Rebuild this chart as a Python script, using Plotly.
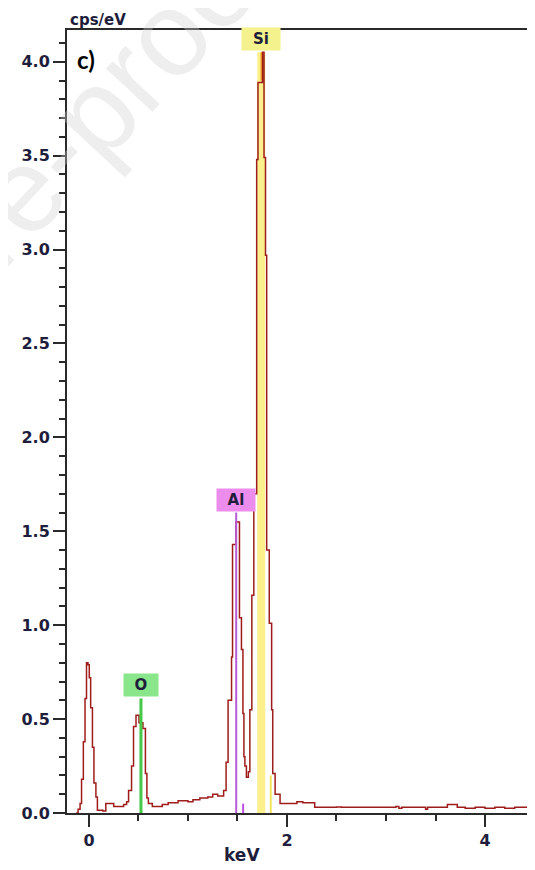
import plotly.graph_objects as go

# ---- data ----
energy_kev = [-0.13, -0.11, -0.09, -0.075, -0.057, -0.04, -0.025, -0.01, 0.003, 0.017,
              0.035, 0.05, 0.07, 0.085, 0.14, 0.17, 0.25, 0.35, 0.38, 0.40,
              0.43, 0.45, 0.475, 0.505, 0.545, 0.57, 0.585, 0.60, 0.64, 0.74,
              0.80, 0.90, 1.00, 1.05, 1.12, 1.20, 1.25, 1.30, 1.36, 1.385,
              1.405, 1.44, 1.45, 1.485, 1.52, 1.54, 1.555, 1.565, 1.575, 1.59,
              1.61, 1.625, 1.645, 1.665, 1.694, 1.707, 1.752, 1.768, 1.783, 1.795,
              1.821, 1.845, 1.856, 1.88, 1.93, 2.10, 2.16, 2.28, 2.50, 2.55,
              3.10, 3.13, 3.16, 3.40, 3.42, 3.62, 3.72, 3.80, 3.90, 4.00,
              4.10, 4.20, 4.30, 4.50]
counts_cps = [0.00, 0.02, 0.05, 0.18, 0.38, 0.61, 0.80, 0.79, 0.72, 0.56,
              0.35, 0.16, 0.085, 0.015, 0.01, 0.05, 0.035, 0.045, 0.06, 0.12,
              0.25, 0.46, 0.52, 0.48, 0.45, 0.21, 0.08, 0.05, 0.035, 0.045,
              0.055, 0.065, 0.06, 0.07, 0.08, 0.085, 0.10, 0.09, 0.12, 0.27,
              0.60, 0.83, 1.43, 1.55, 1.04, 0.87, 0.53, 0.30, 0.25, 0.19,
              0.22, 0.55, 1.16, 1.70, 3.48, 3.89, 4.05, 3.49, 2.97, 1.40,
              1.01, 0.55, 0.21, 0.10, 0.05, 0.06, 0.055, 0.03, 0.032, 0.03,
              0.035, 0.025, 0.03, 0.02, 0.03, 0.045, 0.03, 0.025, 0.03, 0.025,
              0.03, 0.025, 0.03, 0.028]

elements = ["O", "Al", "Si"]
element_kev = [0.525, 1.487, 1.740]
element_height = [0.61, 1.60, 4.05]
beta_kev = [1.557, 1.836]
beta_height = [0.05, 0.20]

x_tick_vals = [0, 2, 4]
x_tick_text = ["0", "2", "4"]
y_tick_vals = [0.0, 0.5, 1.0, 1.5, 2.0, 2.5, 3.0, 3.5, 4.0]
y_tick_text = ["0.0", "0.5", "1.0", "1.5", "2.0", "2.5", "3.0", "3.5", "4.0"]

# ---- styles ----
label_bg = {"O": "#8ae68a", "Al": "#ec8cec", "Si": "#f4f28c"}
line_col = {"O": "#45c845", "Al": "#b85ad8"}
beta_col = ["#c050e0", "#f2e45a"]
spec_col = "#9e1d1b"
text_col = "#1e1e3c"
axis_col = "#2a2a2a"

fig = go.Figure()

# Si band under the spectrum
fig.add_trace(go.Scatter(x=[element_kev[2], element_kev[2]], y=[0, element_height[2]],
                         mode="lines", line=dict(color="rgba(250,236,110,0.8)", width=8),
                         hoverinfo="skip"))
for e, h, c in zip(beta_kev, beta_height, beta_col):
    fig.add_trace(go.Scatter(x=[e, e], y=[0, h], mode="lines",
                             line=dict(color=c, width=2), hoverinfo="skip"))

# spectrum
fig.add_trace(go.Scatter(x=energy_kev, y=counts_cps, mode="lines", line_shape="hv",
                         line=dict(color=spec_col, width=1.5), hoverinfo="skip"))

# element marker lines (O, Al drawn over the spectrum)
for name, e, h in zip(elements, element_kev, element_height):
    if name == "Si":
        fig.add_trace(go.Scatter(x=[e, e], y=[3.9, h], mode="lines",
                                 line=dict(color="rgba(225,140,30,0.9)", width=1.5),
                                 hoverinfo="skip"))
        continue
    w = 3 if name == "O" else 2
    fig.add_trace(go.Scatter(x=[e, e], y=[0, h], mode="lines",
                             line=dict(color=line_col[name], width=w), hoverinfo="skip"))

annotations = []
box_w = {"O": 34, "Al": 38, "Si": 38}
for name, e, h in zip(elements, element_kev, element_height):
    annotations.append(dict(x=e, y=h, xref="x", yref="y", text="<b>%s</b>" % name,
                            showarrow=False, xanchor="center", yanchor="bottom", yshift=1,
                            bgcolor=label_bg[name], width=box_w[name], height=22,
                            borderpad=0, font=dict(family="DejaVu Sans", size=15, color=text_col)))

annotations.append(dict(x=0, y=1, xref="paper", yref="paper", text="<b>cps/eV</b>",
                        showarrow=False, xanchor="left", yanchor="bottom", xshift=1, yshift=-1,
                        font=dict(family="DejaVu Sans", size=15, color=text_col)))
annotations.append(dict(x=0.374, y=-0.054, xref="paper", yref="paper", text="<b>keV</b>",
                        showarrow=False, xanchor="center", yanchor="middle",
                        font=dict(family="DejaVu Sans", size=17, color=text_col)))
annotations.append(dict(x=0.017, y=0.962, xref="paper", yref="paper", text="<b>c)</b>",
                        showarrow=False, xanchor="left", yanchor="middle",
                        font=dict(family="Lato", size=24, color="black")))
# faint watermark
annotations.append(dict(x=-0.27, y=0.685, xref="paper", yref="paper", text="Journal Pre-proof",
                        showarrow=False, xanchor="center", yanchor="middle", textangle=-47,
                        opacity=0.35,
                        font=dict(family="Liberation Sans", size=120, color="#cfcfcf")))

tick_font = dict(family="DejaVu Sans", size=16, color=text_col, weight="bold")

# the page body adds an 8px offset, so the figure is 8px smaller and margins reduced by 8
fig.update_layout(
    width=527, height=862,
    margin=dict(l=59, r=0, t=22, b=57),
    plot_bgcolor="white", paper_bgcolor="white",
    showlegend=False,
    annotations=annotations,
    xaxis=dict(range=[-0.222, 4.505], tickvals=x_tick_vals, ticktext=x_tick_text,
               ticks="outside", ticklen=12, tickwidth=2, tickcolor=axis_col,
               showline=True, linewidth=2, linecolor=axis_col, mirror=True,
               showgrid=False, zeroline=False, tickfont=tick_font,
               minor=dict(dtick=0.5, tick0=0, ticks="outside", ticklen=6, tickwidth=2,
                          tickcolor=axis_col, showgrid=False)),
    yaxis=dict(range=[0, 4.169], tickvals=y_tick_vals, ticktext=y_tick_text,
               ticks="outside", ticklen=12, tickwidth=2, tickcolor=axis_col,
               showline=True, linewidth=2, linecolor=axis_col, mirror=False,
               showgrid=False, zeroline=False, tickfont=tick_font,
               minor=dict(dtick=0.1, tick0=0, ticks="outside", ticklen=6, tickwidth=2,
                          tickcolor=axis_col, showgrid=False)),
)

fig.write_html("out.html")
